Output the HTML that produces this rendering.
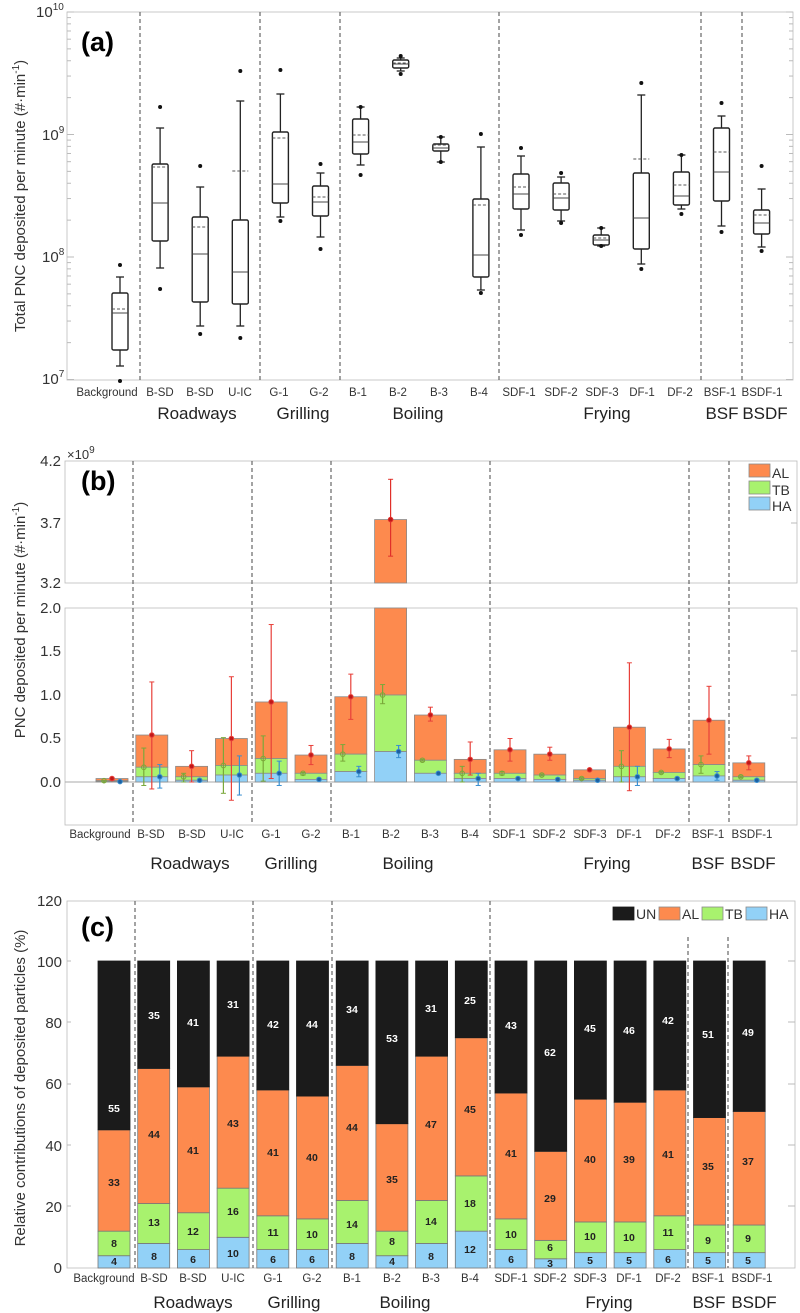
<!DOCTYPE html>
<html><head><meta charset="utf-8"><style>
html,body{margin:0;padding:0;background:#fff;}
svg{display:block;}
.t{font-family:"Liberation Sans",sans-serif;fill:#333;}
.c{font-family:"Liberation Sans Narrow","Liberation Sans",sans-serif;fill:#333;font-size:11.5px;text-anchor:middle;}
.g{font-family:"Liberation Sans Narrow","Liberation Sans",sans-serif;fill:#222;font-size:17px;text-anchor:middle;}
.pl{font-family:"Liberation Sans",sans-serif;font-weight:bold;font-size:27px;fill:#000;}
.n{font-family:"Liberation Sans",sans-serif;font-weight:bold;font-size:10.5px;text-anchor:middle;}
</style></head><body>
<svg id="s" width="800" height="1313" viewBox="0 0 800 1313" xmlns="http://www.w3.org/2000/svg">
<g id="geo"></g>
<!-- Panel a text -->
<text class="t" font-size="15" x="0" y="0" text-anchor="middle" transform="translate(25,196) rotate(-90)">Total PNC deposited per minute (#·min<tspan dy="-6" font-size="10">-1</tspan><tspan dy="6">)</tspan></text>
<text class="t" font-size="15" x="36" y="17">10<tspan dy="-7" font-size="10">10</tspan></text>
<text class="t" font-size="15" x="42" y="140">10<tspan dy="-7" font-size="10">9</tspan></text>
<text class="t" font-size="15" x="42" y="262">10<tspan dy="-7" font-size="10">8</tspan></text>
<text class="t" font-size="15" x="42" y="384">10<tspan dy="-7" font-size="10">7</tspan></text>
<text class="pl" x="81" y="51">(a)</text>
<g class="c">
<text x="107" y="396">Background</text><text x="160" y="396">B-SD</text><text x="200" y="396">B-SD</text><text x="240" y="396">U-IC</text><text x="279" y="396">G-1</text><text x="319" y="396">G-2</text><text x="358" y="396">B-1</text><text x="398" y="396">B-2</text><text x="439" y="396">B-3</text><text x="479" y="396">B-4</text><text x="519" y="396">SDF-1</text><text x="561" y="396">SDF-2</text><text x="602" y="396">SDF-3</text><text x="642" y="396">DF-1</text><text x="680" y="396">DF-2</text><text x="720" y="396">BSF-1</text><text x="762" y="396">BSDF-1</text>
</g>
<g class="g">
<text x="197" y="419">Roadways</text><text x="303" y="419">Grilling</text><text x="418" y="419">Boiling</text><text x="607" y="419">Frying</text><text x="722" y="419">BSF</text><text x="765" y="419">BSDF</text>
</g>
<!-- Panel b text -->
<text class="t" font-size="15" x="0" y="0" text-anchor="middle" transform="translate(25,620) rotate(-90)">PNC deposited per minute (#·min<tspan dy="-6" font-size="10">-1</tspan><tspan dy="6">)</tspan></text>
<text class="t" font-size="13" x="67" y="459">×10<tspan dy="-6" font-size="10">9</tspan></text>
<g class="t" font-size="15" text-anchor="end">
<text x="61" y="466">4.2</text><text x="61" y="528">3.7</text><text x="61" y="588">3.2</text><text x="61" y="613">2.0</text><text x="61" y="656">1.5</text><text x="61" y="700">1.0</text><text x="61" y="743">0.5</text><text x="61" y="787">0.0</text>
</g>
<text class="pl" x="81" y="490">(b)</text>
<g class="t" font-size="14"><text x="772" y="478">AL</text><text x="772" y="495">TB</text><text x="772" y="511">HA</text></g>
<g class="c">
<text x="100" y="838">Background</text><text x="151" y="838">B-SD</text><text x="192" y="838">B-SD</text><text x="232" y="838">U-IC</text><text x="271" y="838">G-1</text><text x="311" y="838">G-2</text><text x="351" y="838">B-1</text><text x="391" y="838">B-2</text><text x="430" y="838">B-3</text><text x="470" y="838">B-4</text><text x="509" y="838">SDF-1</text><text x="549" y="838">SDF-2</text><text x="590" y="838">SDF-3</text><text x="629" y="838">DF-1</text><text x="668" y="838">DF-2</text><text x="708" y="838">BSF-1</text><text x="752" y="838">BSDF-1</text>
</g>
<g class="g">
<text x="190" y="869">Roadways</text><text x="291" y="869">Grilling</text><text x="408" y="869">Boiling</text><text x="607" y="869">Frying</text><text x="708" y="869">BSF</text><text x="753" y="869">BSDF</text>
</g>
<!-- Panel c text -->
<text class="t" font-size="15" x="0" y="0" text-anchor="middle" transform="translate(25,1088) rotate(-90)">Relative contributions of deposited particles (%)</text>
<g class="t" font-size="15" text-anchor="end">
<text x="62" y="906">120</text><text x="62" y="967">100</text><text x="62" y="1028">80</text><text x="62" y="1089">60</text><text x="62" y="1151">40</text><text x="62" y="1212">20</text><text x="62" y="1273">0</text>
</g>
<text class="pl" x="81" y="936">(c)</text>
<g class="t" font-size="14"><text x="636" y="919">UN</text><text x="682" y="919">AL</text><text x="725" y="919">TB</text><text x="769" y="919">HA</text></g>
<g class="c">
<text x="104" y="1282">Background</text><text x="154" y="1282">B-SD</text><text x="193" y="1282">B-SD</text><text x="233" y="1282">U-IC</text><text x="273" y="1282">G-1</text><text x="312" y="1282">G-2</text><text x="352" y="1282">B-1</text><text x="392" y="1282">B-2</text><text x="431" y="1282">B-3</text><text x="470" y="1282">B-4</text><text x="511" y="1282">SDF-1</text><text x="550" y="1282">SDF-2</text><text x="590" y="1282">SDF-3</text><text x="629" y="1282">DF-1</text><text x="668" y="1282">DF-2</text><text x="708" y="1282">BSF-1</text><text x="752" y="1282">BSDF-1</text>
</g>
<g class="g">
<text x="193" y="1308">Roadways</text><text x="294" y="1308">Grilling</text><text x="405" y="1308">Boiling</text><text x="609" y="1308">Frying</text><text x="709" y="1308">BSF</text><text x="754" y="1308">BSDF</text>
</g>
<g id="nums"></g>
</svg>
<script>
(function(){
var NS="http://www.w3.org/2000/svg";var G=document.getElementById("geo");
function el(n,a,p){var e=document.createElementNS(NS,n);for(var k in a)e.setAttribute(k,a[k]);(p||G).appendChild(e);return e;}
function ln(x1,y1,x2,y2,s,w,d){var a={x1:x1,y1:y1,x2:x2,y2:y2,stroke:s,"stroke-width":w||1};if(d)a["stroke-dasharray"]=d;return el("line",a);}
function rc(x,y,w,h,f,s){return el("rect",{x:x,y:y,width:w,height:h,fill:f,stroke:s||"none","stroke-width":0.8});}
var gr="#bbb",dk="#555";
// ===== Panel a =====
var L=67,R=793,T=12,B=380;
rc(L,T,R-L,B-T,"none",gr);
var dec=[12,134.5,257,379.5];
for(var d=0;d<3;d++){for(var m=2;m<=9;m++){var y=dec[d+1]-(dec[d+1]-dec[d])*Math.log10(m);ln(L,y,L+4,y,gr,1);ln(R-4,y,R,y,gr,1);}}
dec.forEach(function(y){ln(L,y,L+7,y,gr,1);ln(R-7,y,R,y,gr,1);});
[140,260,340,499,701,742].forEach(function(x){ln(x,T,x,B,"#666",1.2,"4,3");});
// boxes: [ot,wt,bt,mean,med,bb,wb,ob]
var bx=[[265,277,293,309,313,350,366,381],[107,128,164,167,203,241,268,289],[166,187,217,227,254,302,326,334],[71,101,220,171,272,304,326,338],[70,94,132,138,184,203,217,221],[164,173,186,197,202,216,237,249],[107,107,119,135,142,154,165,175],[56,58,60,63,64,68,71,74],[137,137,144,145,148,151,162,162],[134,147,199,205,255,277,290,293],[148,156,174,187,194,209,230,235],[173,177,183,194,198,210,221,223],[228,228,235,238,240,245,246,246],[83,95,173,159,218,249,264,269],[155,155,172,185,196,205,209,214],[103,116,128,152,172,201,226,232],[166,189,210,215,223,234,247,251]];
bx.forEach(function(b,i){var c=120+40.1*i,h=8;
ln(c,b[1],c,b[2],"#222",1.3);ln(c,b[5],c,b[6],"#222",1.3);
ln(c-4,b[1],c+4,b[1],"#222",1.3);ln(c-4,b[6],c+4,b[6],"#222",1.3);
el("rect",{x:c-h,y:b[2],width:2*h,height:b[5]-b[2],fill:"none",stroke:"#222","stroke-width":1.4,rx:1.5});
ln(c-h,b[4],c+h,b[4],"#444",1);ln(c-h,b[3],c+h,b[3],"#555",1,"3,2");
el("circle",{cx:c,cy:b[0],r:2,fill:"#111"});el("circle",{cx:c,cy:b[7],r:2,fill:"#111"});});
// ===== Panel b =====
var OR="#fd8a4e",GN="#a8f26e",BL="#92d1f7",ED="#8a8a8a";
var bL=65,bR=797;
rc(bL,461,bR-bL,122,"none",gr);rc(bL,608,bR-bL,217,"none",gr);
ln(bL,782,bR,782,"#aaa",1);
[523].forEach(function(y){ln(bR-6,y,bR,y,gr,1);});
[651,695,738].forEach(function(y){ln(bR-6,y,bR,y,gr,1);});
function yb(v){return 782-v*87;}
// [total,tb,ha, redHi,redLo, gHi,gLo, bHi,bLo]
var bd=[[0.04,0.015,0.005,0.05,0.02,0.02,0,0.01,0],[0.54,0.17,0.06,1.15,-0.08,0.39,-0.04,0.2,-0.07],[0.18,0.06,0.02,0.36,0,0.1,0,0.03,0],[0.5,0.19,0.08,1.21,-0.21,0.51,-0.13,0.3,-0.15],[0.92,0.27,0.1,1.81,0.04,0.53,0.01,0.24,-0.04],[0.31,0.1,0.03,0.42,0.2,0.11,0.08,0.04,0.02],[0.98,0.32,0.12,1.24,0.72,0.43,0.24,0.18,0.06],[3.72,1.0,0.35,4.05,3.42,1.12,0.9,0.42,0.28],[0.77,0.25,0.1,0.86,0.7,0.26,0.24,0.11,0.09],[0.26,0.1,0.04,0.46,0.08,0.18,0,0.1,-0.04],[0.37,0.1,0.04,0.5,0.24,0.12,0.08,0.05,0.03],[0.32,0.08,0.03,0.4,0.25,0.09,0.07,0.04,0.02],[0.14,0.04,0.02,0.15,0.13,0.05,0.03,0.02,0.01],[0.63,0.18,0.06,1.37,-0.1,0.36,0,0.18,-0.04],[0.38,0.11,0.04,0.49,0.28,0.12,0.1,0.05,0.03],[0.71,0.2,0.07,1.1,0.32,0.3,0.1,0.12,0.02],[0.22,0.06,0.02,0.3,0.14,0.07,0.05,0.03,0.01]];
function yu(v){return 583-(v-3.2)*122;}
bd.forEach(function(b,i){var c=112+39.8*i,w=32,x=c-16;
if(i==7){rc(x,608,w,yb(1)-608,OR,ED);rc(x,yu(3.72),w,583-yu(3.72),OR,ED);}
else rc(x,yb(b[0]),w,yb(b[1])-yb(b[0]),OR,ED);
rc(x,yb(b[1]),w,yb(b[2])-yb(b[1]),GN,ED);rc(x,yb(b[2]),w,782-yb(b[2]),BL,ED);
function eb(cx,v,hi,lo,col,fc,fn){var Y=fn||yb;ln(cx,Y(hi),cx,Y(lo),col,1.2);ln(cx-2.5,Y(hi),cx+2.5,Y(hi),col,1);ln(cx-2.5,Y(lo),cx+2.5,Y(lo),col,1);el("circle",{cx:cx,cy:Y(v),r:2.3,fill:fc,stroke:col,"stroke-width":1});}
eb(c-8,b[1],b[5],b[6],"#7aa83a","none");
if(i==7)eb(c,b[0],b[3],b[4],"#e0302a","#c01818",yu);else eb(c,b[0],b[3],b[4],"#e8403a","#c01818");
eb(c+8,b[2],b[7],b[8],"#3a8fd0","#1c5fa0");});
[133,252,331,490,689,729].forEach(function(x){ln(x,461,x,825,"#666",1.2,"4,3");});
rc(749,464,21,13,OR,ED);rc(749,481,21,13,GN,ED);rc(749,497,21,13,BL,ED);
// ===== Panel c =====
var cL=67,cR=795;
rc(cL,901,cR-cL,367,"none",gr);
[961,1022,1084,1145,1206].forEach(function(y){ln(cR-7,y,cR,y,gr,1);ln(cL,y,cL+4,y,gr,1);});
function yc(v){return 1268-v*3.07;}
var cd=[[4,8,33,55],[8,13,44,35],[6,12,41,41],[10,16,43,31],[6,11,41,42],[6,10,40,44],[8,14,44,34],[4,8,35,53],[8,14,47,31],[12,18,45,25],[6,10,41,43],[3,6,29,62],[5,10,40,45],[5,10,39,46],[6,11,41,42],[5,9,35,51],[5,9,37,49]];
var N=document.getElementById("nums");
var cols=[BL,GN,OR,"#1b1b1b"],tc=["#222","#222","#222","#fff"];
cd.forEach(function(b,i){var c=114+39.7*i,x=c-16,acc=0;
for(var k=0;k<4;k++){var y0=yc(acc),y1=yc(acc+b[k]);rc(x,y1,32,y0-y1,cols[k],k==3?"#1b1b1b":"#777");acc+=b[k];}});
[135,253,332,490].forEach(function(x){ln(x,901,x,1268,"#666",1.2,"4,3");});
[688,728].forEach(function(x){ln(x,937,x,1268,"#666",1.2,"4,3");});
rc(613,907,21,13,"#1b1b1b","#1b1b1b");rc(659,907,21,13,OR,ED);rc(702,907,21,13,GN,ED);rc(746,907,21,13,BL,ED);
// move text group on top
var s=document.getElementById("s");s.appendChild(N);
})();
</script>
<svg width="0" height="0" style="position:absolute;left:0;top:0"></svg>
<div style="position:absolute;left:0;top:0;width:800px;height:1313px;pointer-events:none">
<svg width="800" height="1313" viewBox="0 0 800 1313" xmlns="http://www.w3.org/2000/svg">
<g class="n" fill="#fff">
<text x="114" y="1112">55</text><text x="154" y="1019">35</text><text x="193" y="1026">41</text><text x="233" y="1008">31</text><text x="273" y="1028">42</text><text x="312" y="1028">44</text><text x="352" y="1013">34</text><text x="392" y="1042">53</text><text x="431" y="1012">31</text><text x="470" y="1004">25</text><text x="511" y="1029">43</text><text x="550" y="1056">62</text><text x="590" y="1032">45</text><text x="629" y="1034">46</text><text x="668" y="1024">42</text><text x="708" y="1038">51</text><text x="748" y="1036">49</text>
</g>
<g class="n" fill="#222">
<text x="114" y="1186">33</text><text x="154" y="1138">44</text><text x="193" y="1154">41</text><text x="233" y="1127">43</text><text x="273" y="1156">41</text><text x="312" y="1161">40</text><text x="352" y="1131">44</text><text x="392" y="1183">35</text><text x="431" y="1128">47</text><text x="470" y="1113">45</text><text x="511" y="1157">41</text><text x="550" y="1202">29</text><text x="590" y="1163">40</text><text x="629" y="1163">39</text><text x="668" y="1158">41</text><text x="708" y="1170">35</text><text x="748" y="1165">37</text>
<text x="114" y="1247">8</text><text x="154" y="1226">13</text><text x="193" y="1235">12</text><text x="233" y="1215">16</text><text x="273" y="1236">11</text><text x="312" y="1238">10</text><text x="352" y="1228">14</text><text x="392" y="1245">8</text><text x="431" y="1225">14</text><text x="470" y="1207">18</text><text x="511" y="1238">10</text><text x="550" y="1251">6</text><text x="590" y="1240">10</text><text x="629" y="1241">10</text><text x="668" y="1236">11</text><text x="708" y="1244">9</text><text x="748" y="1242">9</text>
<text x="114" y="1265">4</text><text x="154" y="1260">8</text><text x="193" y="1263">6</text><text x="233" y="1257">10</text><text x="273" y="1263">6</text><text x="312" y="1263">6</text><text x="352" y="1260">8</text><text x="392" y="1265">4</text><text x="431" y="1260">8</text><text x="470" y="1253">12</text><text x="511" y="1263">6</text><text x="550" y="1267">3</text><text x="590" y="1264">5</text><text x="629" y="1264">5</text><text x="668" y="1263">6</text><text x="708" y="1264">5</text><text x="748" y="1264">5</text>
</g>
</svg></div>
</body></html>
